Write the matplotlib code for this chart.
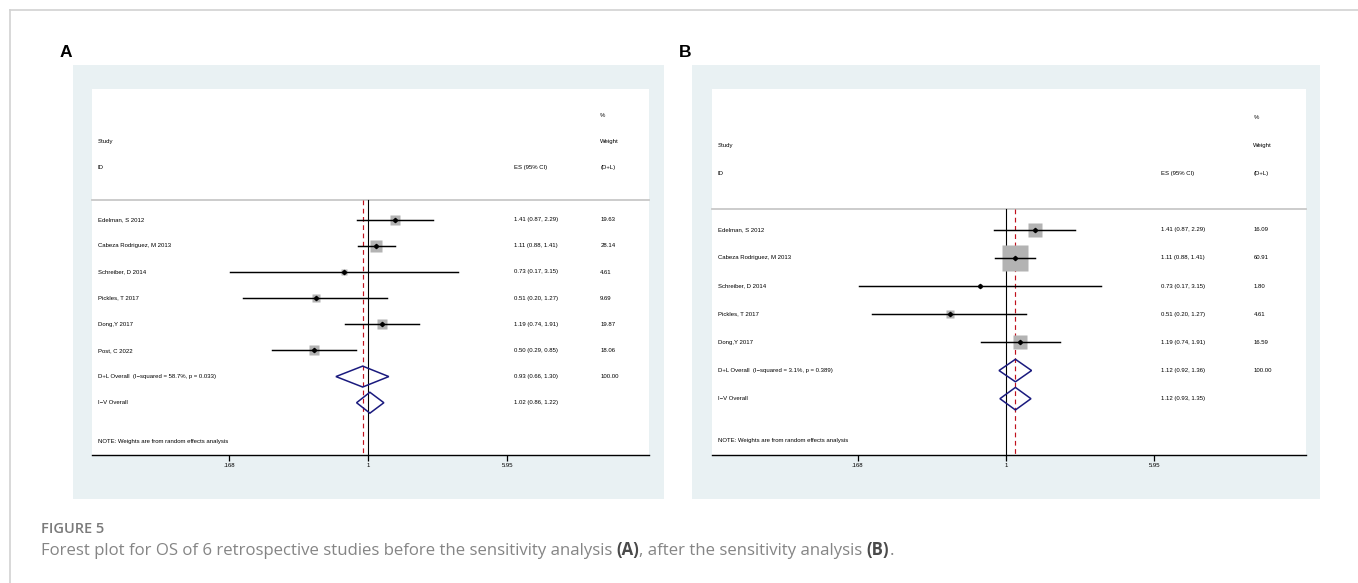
import numpy as np
import matplotlib
matplotlib.use("Agg")
import matplotlib.pyplot as plt
from matplotlib.patches import Rectangle
from matplotlib.lines import Line2D

# ---- data ----
a_studies = ["Edelman, S 2012", "Cabeza Rodriguez, M 2013", "Schreiber, D 2014",
             "Pickles, T 2017", "Dong,Y 2017", "Post, C 2022"]
a_es = [1.41, 1.11, 0.73, 0.51, 1.19, 0.50]
a_lo = [0.87, 0.88, 0.17, 0.20, 0.74, 0.29]
a_hi = [2.29, 1.41, 3.15, 1.27, 1.91, 0.85]
a_wt = [19.63, 28.14, 4.61, 9.69, 19.87, 18.06]
a_dl = (0.93, 0.66, 1.30)
a_iv = (1.02, 0.86, 1.22)
a_het = "(I\u2212squared = 58.7%, p = 0.033)"

b_studies = ["Edelman, S 2012", "Cabeza Rodriguez, M 2013", "Schreiber, D 2014",
             "Pickles, T 2017", "Dong,Y 2017"]
b_es = [1.41, 1.11, 0.73, 0.51, 1.19]
b_lo = [0.87, 0.88, 0.17, 0.20, 0.74]
b_hi = [2.29, 1.41, 3.15, 1.27, 1.91]
b_wt = [16.09, 60.91, 1.80, 4.61, 16.59]
b_dl = (1.12, 0.92, 1.36)
b_iv = (1.12, 0.93, 1.35)
b_het = "(I\u2212squared = 3.1%, p = 0.389)"

tick_vals = [0.168, 1, 5.95]
tick_labels = [".168", "1", "5.95"]

W, H = 1358, 583
fig = plt.figure(figsize=(W / 100, H / 100), dpi=100)
fig.patch.set_facecolor("white")

FONT = ["Liberation Sans", "DejaVu Sans"]
FS = 4.3
NAVY = "#1a1a7e"


def fx(x):
    return x / W


def fy(y):
    return 1 - y / H


# page frame (top and left rules)
fig.add_artist(Line2D([fx(9.5), 1], [fy(10), fy(10)], color="#d2d2d2", lw=1.2))
fig.add_artist(Line2D([fx(9.5), fx(9.5)], [fy(10), 0], color="#d2d2d2", lw=1.2))


def forest(label, lab_xy, outer, inner, studies, es, lo, hi, wt, dl, iv, het, box_k):
    fig.text(fx(lab_xy[0]), fy(lab_xy[1]), label, fontsize=12.5, fontweight="bold",
             family=FONT, ha="left", va="center")
    x0, y0, x1, y1 = outer
    fig.add_artist(Rectangle((fx(x0), fy(y1)), fx(x1 - x0), (y1 - y0) / H,
                             facecolor="#e9f1f3", edgecolor="none", zorder=0))
    x0, y0, x1, y1 = inner
    ax = fig.add_axes([fx(x0), fy(y1), fx(x1 - x0), (y1 - y0) / H])
    ax.set_facecolor("white")

    n = len(studies) + 2
    ax.set_xscale("log")
    ax.set_xlim(np.exp(-3.537), np.exp(3.60))
    ax.set_ylim(n + 1, -5)
    for s in ["top", "left", "right"]:
        ax.spines[s].set_visible(False)
    ax.spines["bottom"].set_linewidth(1.0)
    ax.set_yticks([])
    ax.set_xticks(tick_vals)
    ax.set_xticklabels(tick_labels, fontsize=FS, family=FONT)
    ax.xaxis.set_minor_locator(matplotlib.ticker.NullLocator())
    ax.tick_params(axis="x", length=4, width=0.9, pad=2)

    tx = ax.get_yaxis_transform()  # x in axes fraction, y in data
    xs, xe, xw = 0.010, 0.757, 0.912

    # header
    ax.text(xw, -4, "%", transform=tx, fontsize=FS, family=FONT, va="center")
    ax.text(xs, -3, "Study", transform=tx, fontsize=FS, family=FONT, va="center")
    ax.text(xw, -3, "Weight", transform=tx, fontsize=FS, family=FONT, va="center")
    ax.text(xs, -2, "ID", transform=tx, fontsize=FS, family=FONT, va="center")
    ax.text(xe, -2, "ES (95% CI)", transform=tx, fontsize=FS, family=FONT, va="center")
    ax.text(xw, -2, "(D+L)", transform=tx, fontsize=FS, family=FONT, va="center")
    ax.plot([0, 1], [-0.75, -0.75], transform=tx, color="#c8c8c8", lw=1.3,
            clip_on=False)

    # reference lines
    ax.plot([1, 1], [-0.75, n + 1], color="black", lw=0.8, zorder=2)
    ax.plot([dl[0], dl[0]], [-0.75, n + 1], color="#c0101c", lw=0.85,
            ls=(0, (4, 3)), zorder=2)

    for i, (name, e, l, h, w) in enumerate(zip(studies, es, lo, hi, wt)):
        ax.plot([e], [i], marker="s", ms=box_k * np.sqrt(w) * 0.72,
                color="#b3b3b3", mec="none", zorder=3)
        ax.plot([l, h], [i, i], color="black", lw=1.05, zorder=4)
        ax.plot([e], [i], marker="D", ms=2.2, color="black", zorder=5)
        ax.text(xs, i, name, transform=tx, fontsize=FS, family=FONT, va="center")
        ax.text(xe, i, f"{e:.2f} ({l:.2f}, {h:.2f})", transform=tx,
                fontsize=FS, family=FONT, va="center")
        ax.text(xw, i, f"{w:.2f}", transform=tx, fontsize=FS, family=FONT,
                va="center")

    for j, (lab, (e, l, h)) in enumerate([("D+L Overall  " + het, dl),
                                          ("I\u2212V Overall", iv)]):
        y = len(studies) + j
        ax.fill([l, e, h, e], [y, y - 0.4, y, y + 0.4], facecolor="none",
                edgecolor=NAVY, lw=1.1, zorder=4)
        ax.text(xs, y, lab, transform=tx, fontsize=FS, family=FONT, va="center")
        ax.text(xe, y, f"{e:.2f} ({l:.2f}, {h:.2f})", transform=tx,
                fontsize=FS, family=FONT, va="center")
        if j == 0:
            ax.text(xw, y, "100.00", transform=tx, fontsize=FS, family=FONT,
                    va="center")

    ax.text(xs, n + 0.5, "NOTE: Weights are from random effects analysis",
            transform=tx, fontsize=FS, family=FONT, va="center")
    return ax


forest("A", (59.5, 52.5), (72.9, 65, 664, 499), (92.4, 89, 649.2, 455),
       a_studies, a_es, a_lo, a_hi, a_wt, a_dl, a_iv, a_het, 2.33)
forest("B", (678.5, 52.5), (692, 65, 1320.3, 499), (711.6, 89, 1305.6, 455),
       b_studies, b_es, b_lo, b_hi, b_wt, b_dl, b_iv, b_het, 3.4)

# caption
CAP = ["Open Sans", "DejaVu Sans"]
fig.text(fx(40.7), fy(533), "FIGURE 5", fontsize=10.5, fontweight="semibold",
         family=CAP, color="#7a7a7a", va="baseline")

renderer = fig.canvas.get_renderer()
parts = [("Forest plot for OS of 6 retrospective studies before the sensitivity analysis ", "normal", "#858585"),
         ("(A)", "bold", "#4a4a4a"),
         (", after the sensitivity analysis ", "normal", "#858585"),
         ("(B)", "bold", "#4a4a4a"),
         (".", "normal", "#858585")]
x = fx(40.7)
for s, wgt, col in parts:
    t = fig.text(x, fy(555), s, fontsize=12.05, fontweight=wgt, family=CAP,
                 color=col, va="baseline")
    x += t.get_window_extent(renderer=renderer).width / fig.bbox.width

fig.savefig("out.png", dpi=100)
